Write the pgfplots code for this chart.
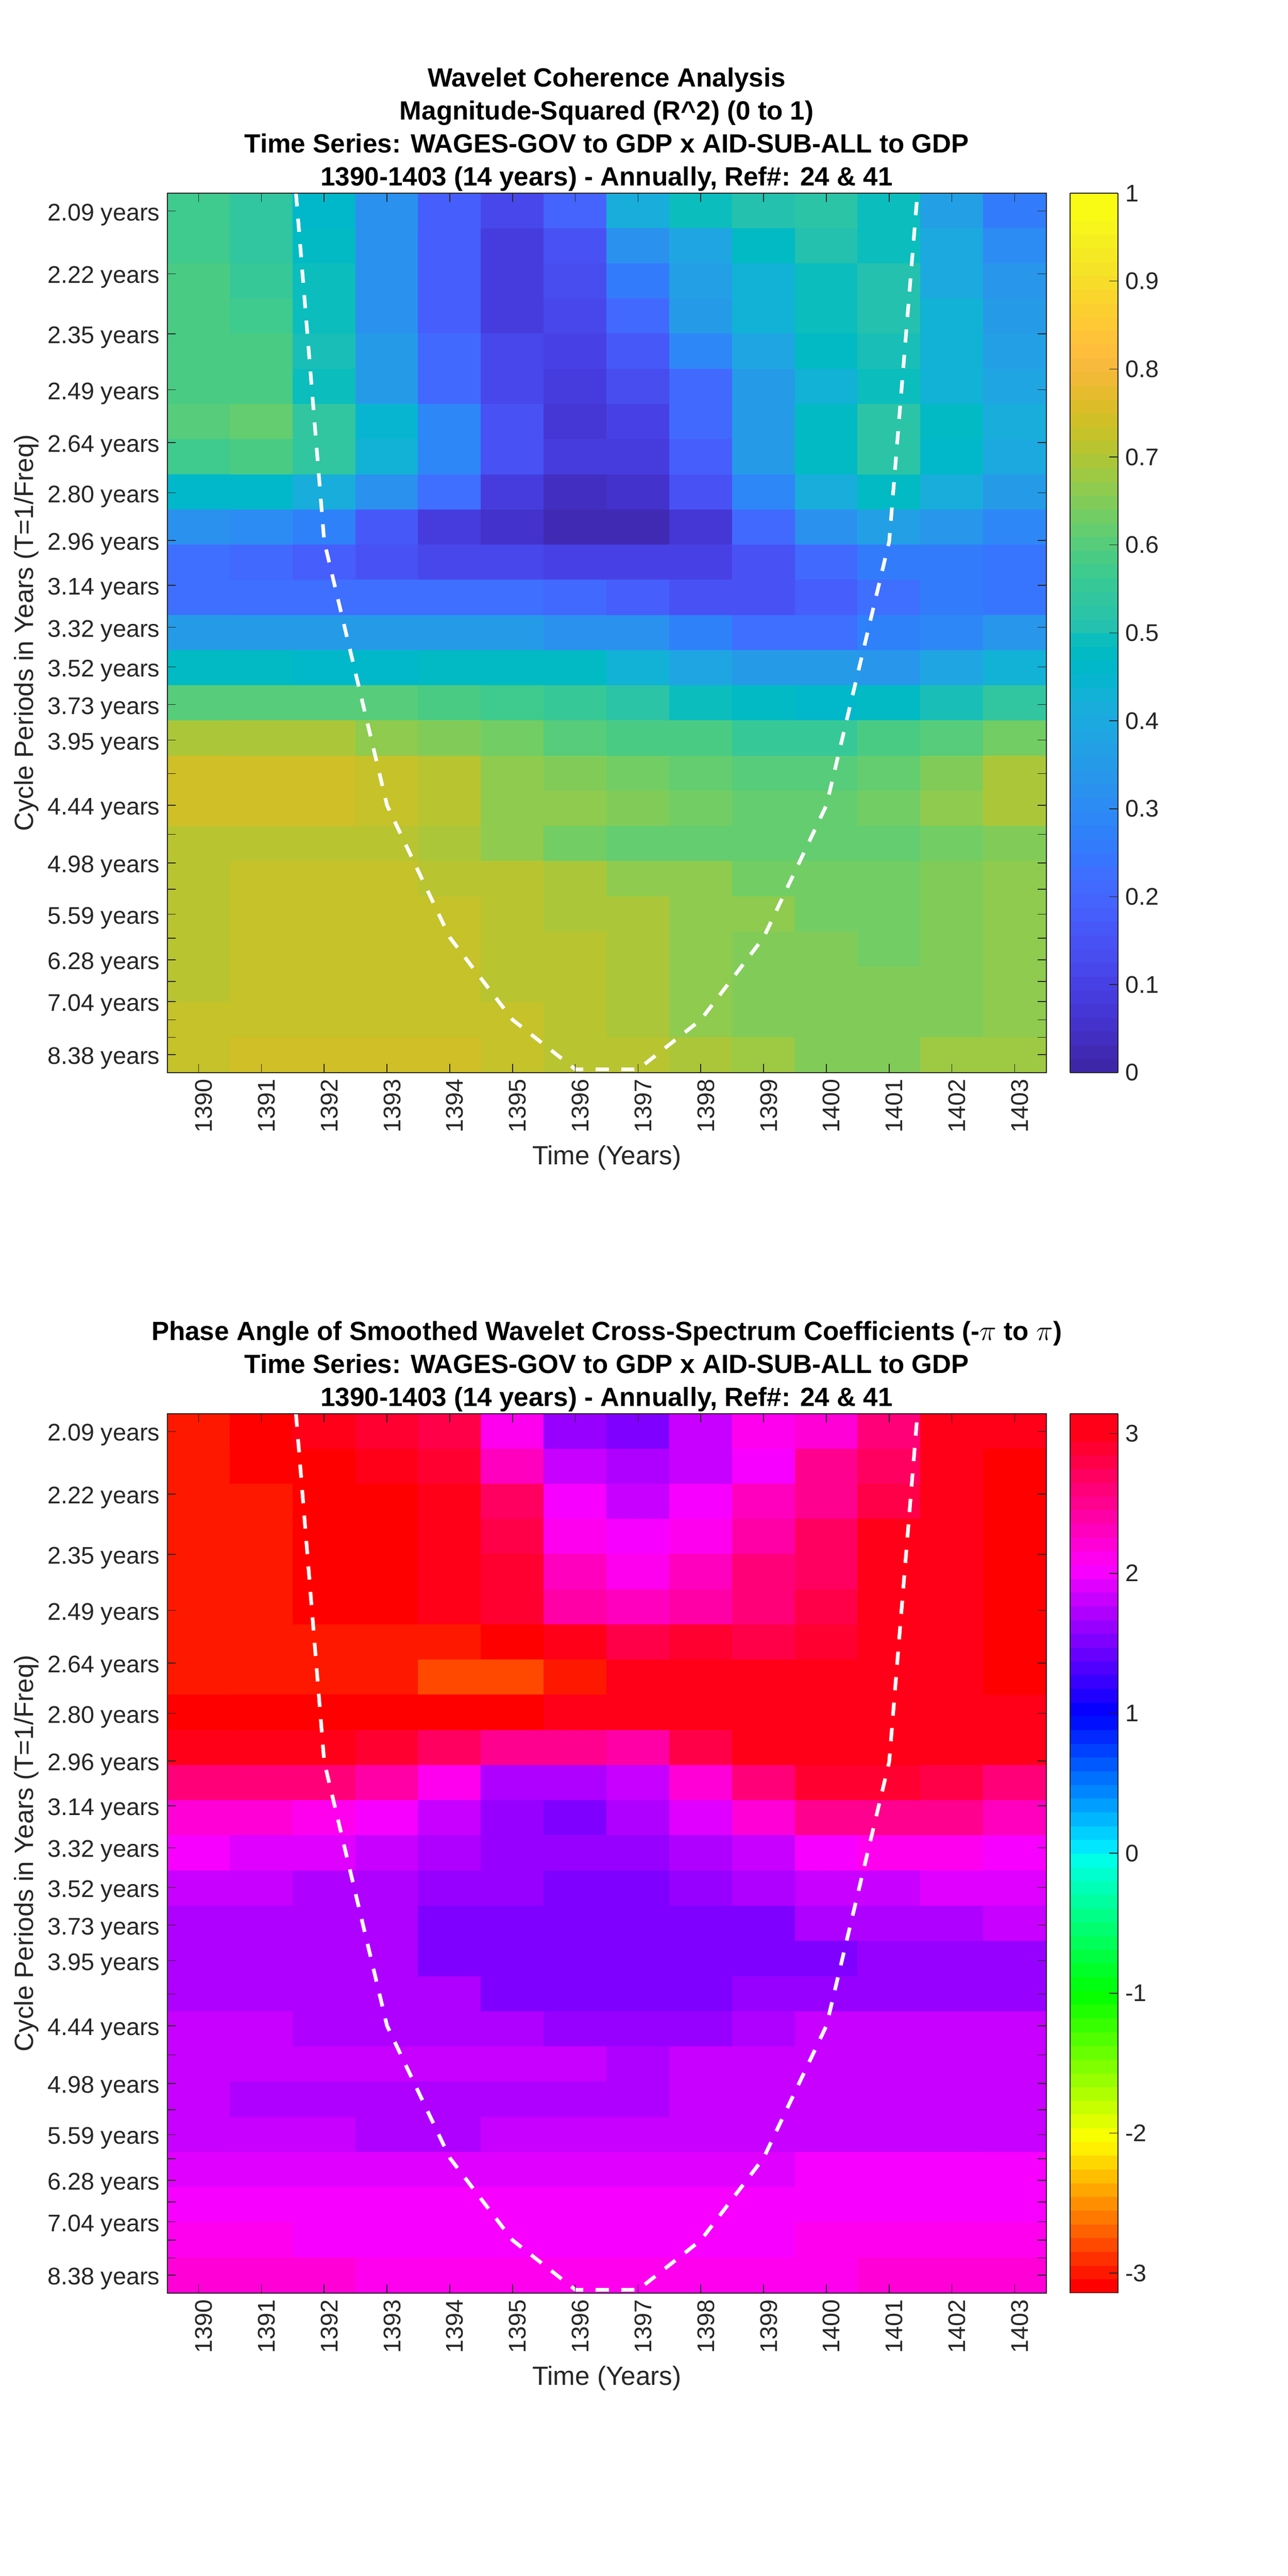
\documentclass[border=0pt]{standalone}
\usepackage{fontspec}
\setmainfont{Liberation Sans}
\usepackage{pgfplots}
\pgfplotsset{compat=1.18}
\definecolor{mgray}{rgb}{0.15,0.15,0.15}
\pgfplotsset{
  colormap={parula64}{
rgb=(0.2422,0.1504,0.6603) rgb=(0.2504,0.1650,0.7076) rgb=(0.2578,0.1818,0.7511) rgb=(0.2647,0.1978,0.7952)
rgb=(0.2706,0.2147,0.8364) rgb=(0.2751,0.2342,0.8710) rgb=(0.2783,0.2559,0.8991) rgb=(0.2803,0.2782,0.9221)
rgb=(0.2813,0.3006,0.9414) rgb=(0.2810,0.3228,0.9579) rgb=(0.2795,0.3447,0.9717) rgb=(0.2760,0.3667,0.9829)
rgb=(0.2699,0.3892,0.9906) rgb=(0.2602,0.4123,0.9952) rgb=(0.2440,0.4358,0.9988) rgb=(0.2206,0.4603,0.9973)
rgb=(0.1963,0.4847,0.9892) rgb=(0.1834,0.5074,0.9798) rgb=(0.1786,0.5289,0.9682) rgb=(0.1764,0.5499,0.9520)
rgb=(0.1687,0.5703,0.9359) rgb=(0.1540,0.5902,0.9218) rgb=(0.1460,0.6091,0.9079) rgb=(0.1380,0.6276,0.8973)
rgb=(0.1248,0.6459,0.8883) rgb=(0.1113,0.6635,0.8763) rgb=(0.0952,0.6798,0.8598) rgb=(0.0689,0.6948,0.8394)
rgb=(0.0297,0.7082,0.8163) rgb=(0.0036,0.7203,0.7917) rgb=(0.0067,0.7312,0.7660) rgb=(0.0433,0.7411,0.7394)
rgb=(0.0964,0.7500,0.7120) rgb=(0.1408,0.7584,0.6842) rgb=(0.1717,0.7670,0.6554) rgb=(0.1938,0.7758,0.6251)
rgb=(0.2161,0.7843,0.5923) rgb=(0.2470,0.7918,0.5567) rgb=(0.2906,0.7973,0.5188) rgb=(0.3406,0.8008,0.4789)
rgb=(0.3909,0.8029,0.4354) rgb=(0.4456,0.8024,0.3909) rgb=(0.5044,0.7993,0.3480) rgb=(0.5616,0.7942,0.3045)
rgb=(0.6174,0.7876,0.2612) rgb=(0.6720,0.7793,0.2227) rgb=(0.7242,0.7698,0.1910) rgb=(0.7738,0.7598,0.1646)
rgb=(0.8203,0.7498,0.1535) rgb=(0.8634,0.7406,0.1596) rgb=(0.9035,0.7330,0.1774) rgb=(0.9393,0.7288,0.2100)
rgb=(0.9728,0.7298,0.2394) rgb=(0.9956,0.7434,0.2371) rgb=(0.9970,0.7659,0.2199) rgb=(0.9952,0.7893,0.2028)
rgb=(0.9892,0.8136,0.1885) rgb=(0.9786,0.8386,0.1766) rgb=(0.9676,0.8639,0.1643) rgb=(0.9610,0.8890,0.1537)
rgb=(0.9597,0.9135,0.1423) rgb=(0.9628,0.9373,0.1265) rgb=(0.9691,0.9606,0.1064) rgb=(0.9769,0.9839,0.0805)
rgb=(0.9769,0.9839,0.0805)
  },
  colormap={hsv64}{
rgb255=(255,0,0) rgb255=(255,24,0) rgb255=(255,48,0) rgb255=(255,72,0) rgb255=(255,96,0) rgb255=(255,120,0)
rgb255=(255,143,0) rgb255=(255,167,0) rgb255=(255,191,0) rgb255=(255,215,0) rgb255=(255,239,0)
rgb255=(247,255,0) rgb255=(223,255,0) rgb255=(199,255,0) rgb255=(175,255,0) rgb255=(151,255,0)
rgb255=(128,255,0) rgb255=(104,255,0) rgb255=(80,255,0) rgb255=(56,255,0) rgb255=(32,255,0) rgb255=(8,255,0)
rgb255=(0,255,16) rgb255=(0,255,40) rgb255=(0,255,64) rgb255=(0,255,88) rgb255=(0,255,112) rgb255=(0,255,135)
rgb255=(0,255,159) rgb255=(0,255,183) rgb255=(0,255,207) rgb255=(0,255,231)
rgb255=(0,255,255) rgb255=(0,231,255) rgb255=(0,207,255) rgb255=(0,183,255) rgb255=(0,159,255) rgb255=(0,135,255)
rgb255=(0,112,255) rgb255=(0,88,255) rgb255=(0,64,255) rgb255=(0,40,255) rgb255=(0,16,255)
rgb255=(8,0,255) rgb255=(32,0,255) rgb255=(56,0,255) rgb255=(80,0,255) rgb255=(104,0,255) rgb255=(128,0,255)
rgb255=(151,0,255) rgb255=(175,0,255) rgb255=(199,0,255) rgb255=(223,0,255) rgb255=(247,0,255)
rgb255=(255,0,239) rgb255=(255,0,215) rgb255=(255,0,191) rgb255=(255,0,167) rgb255=(255,0,143) rgb255=(255,0,120)
rgb255=(255,0,96) rgb255=(255,0,72) rgb255=(255,0,48) rgb255=(255,0,24) rgb255=(255,0,24)
  },
  hm/.style={
    scale only axis, width=533.25pt, height=533.5pt,
    xmin=1389.5, xmax=1403.5, ymin=0, ymax=25, y dir=reverse,
    axis on top,
    axis line style={line width=0.6pt, color=mgray},
    tick style={line width=0.5pt, color=mgray},
    major tick length=5.2pt,
    tick align=inside,
    xtick={1390,...,1403},
    xticklabels={1390,1391,1392,1393,1394,1395,1396,1397,1398,1399,1400,1401,1402,1403},
    ytick={0.505,2.29,4.0,5.59,7.09,8.52,9.87,11.15,12.34,13.47,14.54,15.55,16.5,17.4,18.23,19.04,19.79,20.5,21.18,21.8,22.41,22.98,23.5,24.0,24.49},
    yticklabels={2.09 years,2.22 years,2.35 years,2.49 years,2.64 years,2.80 years,2.96 years,3.14 years,3.32 years,3.52 years,3.73 years,3.95 years,,4.44 years,,4.98 years,,5.59 years,,6.28 years,,7.04 years,,,8.38 years},
    xticklabel pos=bottom, yticklabel pos=left,
    tick label style={font=\fontsize{14.6}{16}\selectfont, text=mgray},
    xticklabel style={rotate=90, anchor=east, text depth=0pt, xshift=-0.5pt, yshift=-3pt},
    yticklabel style={text depth=0pt, text height=10pt, xshift=-1pt, yshift=-0.8pt},
    xlabel={Time (Years)}, ylabel={Cycle Periods in Years (T=1/Freq)},
    label style={font=\fontsize{16}{18}\selectfont, text=mgray},
    xlabel style={at={(0.5,-0.097)}, anchor=center},
    ylabel style={at={(-0.160,0.5)}, anchor=center},
    title style={at={(0.5,1)}, anchor=south, align=center, yshift=-8.3pt,
      font=\fontsize{16}{20}\selectfont\bfseries, text=black},
    colorbar sampled,
    colorbar style={
      at={(parent axis.north east)}, anchor=north west, xshift=6pt,
      scale only axis, width=29pt, height=533.5pt, samples=65,
      axis line style={line width=0.5pt, color=mgray},
      tick style={line width=0.5pt, color=mgray},
      major tick length=5.2pt, tick align=inside, ytick pos=right, yticklabel pos=right,
      yticklabel style={font=\fontsize{14.6}{16}\selectfont, text=mgray, xshift=1pt, text depth=0pt, text height=10pt},
    },
  },
  cell/.style={matrix plot*, mesh/cols=14, point meta=explicit},
  table/celltable/.style={row sep=\\, header=false,
    x expr={1390+mod(\coordindex,14)}, y expr={floor((\coordindex+0.5)/14)+0.5}, meta index=0},
  coi/.style={white, line width=2.2pt, dash pattern=on 8pt off 7.5pt, forget plot},
}
\begin{document}
\begin{tikzpicture}
\useasboundingbox (0pt,0pt) rectangle (781.25pt,1563pt);
\begin{axis}[hm, at={(101.5pt,912.25pt)}, anchor=south west,
  colormap name=parula64, colormap access=piecewise constant,
  point meta min=0, point meta max=1,
  title={Wavelet Coherence Analysis\\Magnitude-Squared (R\^{}2) (0 to 1)\\Time Series: WAGES-GOV to GDP x AID-SUB-ALL to GDP\\1390-1403 (14 years) - Annually, Ref\#: 24 \& 41},
  colorbar style={ytick={0,0.1,0.2,0.3,0.4,0.5,0.6,0.7,0.8,0.9,1}, yticklabels={0,0.1,0.2,0.3,0.4,0.5,0.6,0.7,0.8,0.9,1}},
]
\addplot[cell] table[celltable]{
.57\\.54\\.46\\.32\\.18\\.12\\.19\\.40\\.48\\.51\\.53\\.49\\.36\\.26\\
.57\\.54\\.47\\.31\\.17\\.09\\.15\\.32\\.38\\.47\\.51\\.49\\.39\\.30\\
.585\\.555\\.48\\.31\\.17\\.09\\.13\\.25\\.36\\.42\\.49\\.51\\.39\\.33\\
.585\\.57\\.48\\.32\\.17\\.09\\.11\\.21\\.34\\.42\\.49\\.51\\.42\\.34\\
.585\\.585\\.505\\.35\\.20\\.11\\.10\\.16\\.28\\.38\\.47\\.505\\.42\\.36\\
.585\\.585\\.49\\.35\\.20\\.11\\.08\\.13\\.21\\.34\\.43\\.49\\.42\\.37\\
.615\\.63\\.54\\.44\\.28\\.15\\.07\\.10\\.20\\.34\\.47\\.53\\.47\\.40\\
.57\\.585\\.54\\.42\\.28\\.15\\.08\\.09\\.17\\.34\\.47\\.53\\.46\\.39\\
.46\\.46\\.40\\.31\\.22\\.09\\.04\\.06\\.14\\.28\\.40\\.47\\.40\\.34\\
.31\\.30\\.27\\.16\\.08\\.05\\.03\\.03\\.07\\.20\\.32\\.36\\.33\\.28\\
.22\\.21\\.17\\.14\\.12\\.11\\.10\\.10\\.10\\.14\\.20\\.25\\.25\\.24\\
.23\\.22\\.22\\.22\\.22\\.22\\.21\\.17\\.14\\.14\\.18\\.23\\.25\\.24\\
.35\\.35\\.35\\.35\\.35\\.34\\.32\\.32\\.27\\.23\\.23\\.27\\.28\\.33\\
.47\\.47\\.46\\.46\\.47\\.47\\.47\\.42\\.38\\.34\\.34\\.33\\.38\\.42\\
.60\\.60\\.60\\.60\\.585\\.57\\.555\\.53\\.49\\.47\\.46\\.47\\.50\\.55\\
.695\\.695\\.695\\.675\\.66\\.645\\.615\\.59\\.585\\.555\\.555\\.585\\.615\\.645\\
.74\\.74\\.74\\.725\\.71\\.675\\.66\\.645\\.63\\.615\\.615\\.63\\.66\\.695\\
.74\\.74\\.74\\.725\\.71\\.675\\.665\\.66\\.645\\.63\\.63\\.645\\.675\\.695\\
.71\\.71\\.71\\.71\\.695\\.665\\.645\\.63\\.63\\.63\\.63\\.63\\.645\\.66\\
.71\\.725\\.725\\.725\\.71\\.71\\.695\\.675\\.665\\.645\\.645\\.645\\.66\\.675\\
.71\\.725\\.725\\.725\\.725\\.71\\.695\\.695\\.675\\.665\\.645\\.645\\.66\\.675\\
.71\\.725\\.725\\.725\\.725\\.71\\.71\\.695\\.675\\.66\\.66\\.645\\.66\\.675\\
.71\\.725\\.725\\.725\\.725\\.71\\.71\\.695\\.675\\.66\\.66\\.66\\.66\\.675\\
.725\\.725\\.725\\.725\\.725\\.725\\.71\\.695\\.675\\.66\\.66\\.66\\.66\\.675\\
.725\\.74\\.74\\.74\\.74\\.725\\.72\\.71\\.70\\.68\\.66\\.66\\.68\\.68\\
};
\addplot[coi] coordinates {(1391.55,0)(1392,9.9)(1393,17.4)(1394,21.16)(1395,23.5)(1396,24.91)(1397,24.91)(1398,23.5)(1399,21.16)(1400,17.4)(1401,9.9)(1401.45,0)};
\end{axis}
\begin{axis}[hm, at={(101.5pt,171.75pt)}, anchor=south west,
  colormap name=hsv64, colormap access=piecewise constant,
  point meta min=-3.14159, point meta max=3.14159,
  title={Phase Angle of Smoothed Wavelet Cross-Spectrum Coefficients (-$\pi$ to $\pi$)\\Time Series: WAGES-GOV to GDP x AID-SUB-ALL to GDP\\1390-1403 (14 years) - Annually, Ref\#: 24 \& 41},
  colorbar style={ytick={-3,-2,-1,0,1,2,3}, yticklabels={-3,-2,-1,0,1,2,3}},
]
\addplot[cell] table[celltable]{
-2.99\\-3.1\\3.09\\2.9\\2.8\\2.15\\1.65\\1.5\\1.8\\2.1\\2.25\\2.6\\2.95\\3.09\\
-2.99\\-3.1\\-3.1\\3.09\\2.9\\2.35\\1.8\\1.7\\1.85\\2.05\\2.55\\2.7\\3.0\\-3.1\\
-2.99\\-2.99\\-3.1\\-3.1\\2.95\\2.7\\2.0\\1.8\\2.05\\2.3\\2.55\\2.8\\3.0\\-3.1\\
-2.99\\-2.99\\-3.1\\-3.1\\3.09\\2.8\\2.15\\2.05\\2.15\\2.45\\2.75\\2.95\\3.09\\-3.1\\
-2.99\\-2.99\\-3.1\\-3.1\\3.09\\2.9\\2.3\\2.1\\2.3\\2.6\\2.75\\3.0\\3.09\\-3.1\\
-2.99\\-2.99\\-3.1\\-3.1\\3.09\\2.9\\2.45\\2.3\\2.4\\2.65\\2.8\\3.0\\3.09\\-3.1\\
-2.99\\-2.99\\-2.99\\-2.99\\-2.99\\-3.1\\3.0\\2.85\\2.9\\2.85\\2.9\\3.0\\3.09\\-3.1\\
-2.99\\-2.99\\-2.99\\-2.99\\-2.85\\-2.85\\-2.99\\3.09\\3.05\\3.05\\3.05\\3.09\\3.09\\-3.1\\
-3.1\\-3.1\\-3.1\\-3.1\\-3.1\\-3.1\\3.05\\3.05\\3.05\\3.05\\3.09\\3.09\\3.05\\3.09\\
3.0\\3.0\\3.0\\2.9\\2.7\\2.55\\2.5\\2.45\\2.85\\2.95\\3.05\\3.05\\2.95\\2.95\\
2.65\\2.65\\2.6\\2.4\\2.15\\1.75\\1.7\\1.8\\2.25\\2.65\\2.9\\2.9\\2.8\\2.65\\
2.2\\2.2\\2.17\\2.0\\1.8\\1.65\\1.55\\1.7\\1.9\\2.25\\2.5\\2.5\\2.5\\2.35\\
2.05\\1.92\\1.92\\1.85\\1.75\\1.6\\1.6\\1.62\\1.7\\1.85\\2.05\\2.15\\2.15\\2.05\\
1.85\\1.85\\1.75\\1.75\\1.6\\1.6\\1.52\\1.52\\1.6\\1.75\\1.85\\1.85\\1.93\\1.93\\
1.7\\1.7\\1.7\\1.7\\1.55\\1.55\\1.55\\1.52\\1.55\\1.55\\1.7\\1.7\\1.7\\1.85\\
1.7\\1.7\\1.7\\1.7\\1.55\\1.55\\1.55\\1.55\\1.55\\1.55\\1.52\\1.67\\1.67\\1.67\\
1.7\\1.7\\1.7\\1.7\\1.7\\1.55\\1.55\\1.55\\1.55\\1.65\\1.67\\1.67\\1.67\\1.67\\
1.82\\1.82\\1.7\\1.7\\1.7\\1.7\\1.67\\1.67\\1.67\\1.77\\1.82\\1.82\\1.82\\1.82\\
1.82\\1.82\\1.82\\1.82\\1.82\\1.82\\1.82\\1.77\\1.88\\1.88\\1.88\\1.88\\1.88\\1.88\\
1.88\\1.77\\1.77\\1.77\\1.77\\1.77\\1.77\\1.77\\1.88\\1.88\\1.88\\1.88\\1.88\\1.88\\
1.82\\1.82\\1.82\\1.77\\1.77\\1.88\\1.88\\1.88\\1.88\\1.88\\1.88\\1.88\\1.88\\1.88\\
1.92\\1.92\\1.92\\1.92\\1.92\\1.92\\1.92\\1.92\\1.92\\1.92\\2.02\\2.02\\2.02\\2.02\\
2.02\\2.02\\2.02\\2.02\\2.02\\2.02\\2.02\\2.02\\2.02\\2.02\\2.02\\2.02\\2.02\\2.02\\
2.12\\2.12\\2.02\\2.02\\2.02\\2.02\\2.02\\2.02\\2.02\\2.02\\2.12\\2.12\\2.12\\2.12\\
2.2\\2.2\\2.2\\2.12\\2.12\\2.12\\2.12\\2.12\\2.12\\2.12\\2.12\\2.18\\2.18\\2.18\\
};
\addplot[coi] coordinates {(1391.55,0)(1392,9.9)(1393,17.4)(1394,21.16)(1395,23.5)(1396,24.91)(1397,24.91)(1398,23.5)(1399,21.16)(1400,17.4)(1401,9.9)(1401.45,0)};
\end{axis}
\end{tikzpicture}
\end{document}
